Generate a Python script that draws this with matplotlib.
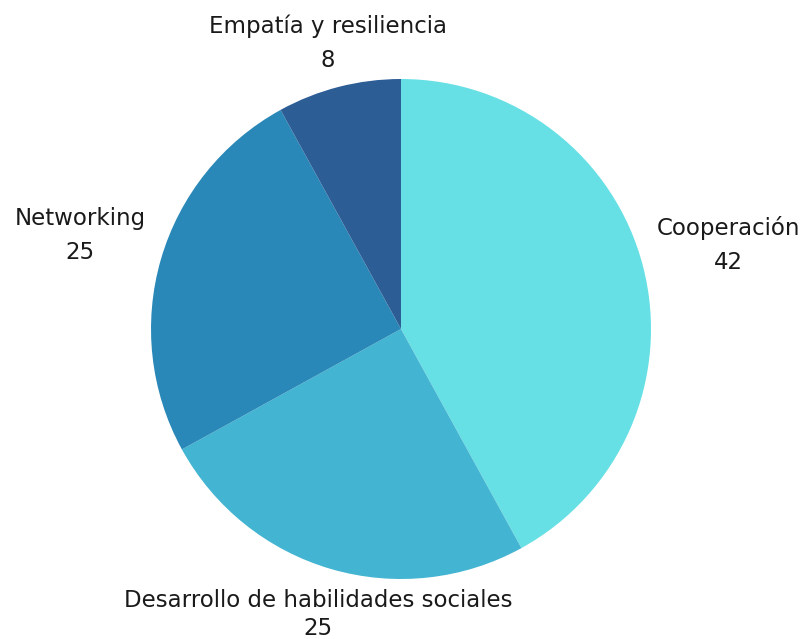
import matplotlib.pyplot as plt
import numpy as np

labels = ['Cooperación', 'Desarrollo de habilidades sociales', 'Networking', 'Empatía y resiliencia']
values = [42, 25, 25, 8]
colors = ['#67E0E5', '#43B4D1', '#2A88B8', '#2D5D95']
# distance of each label centre from pie centre, in radii
label_dist = [1.354, 1.19, 1.336, 1.18]
line_gap = [1.6, 1.3, 1.6, 1.6]

fig = plt.figure(figsize=(8.04, 6.39), dpi=100)
ax = fig.add_axes([151 / 804, 60 / 639, 500 / 804, 500 / 639])

wedges, _ = ax.pie(values, colors=colors, startangle=90, counterclock=False,
                   radius=1, wedgeprops=dict(linewidth=0))
ax.set_xlim(-1, 1)
ax.set_ylim(-1, 1)
ax.set_aspect('equal')
ax.axis('off')

for w, lab, v, d, ls in zip(wedges, labels, values, label_dist, line_gap):
    ang = np.deg2rad((w.theta1 + w.theta2) / 2)
    ax.text(d * np.cos(ang), d * np.sin(ang), f'{lab}\n{v}',
            ha='center', va='center', fontsize=16.5, color='#1a1a1a',
            family='DejaVu Sans', linespacing=ls, clip_on=False)

fig.savefig('out.png', dpi=100)
